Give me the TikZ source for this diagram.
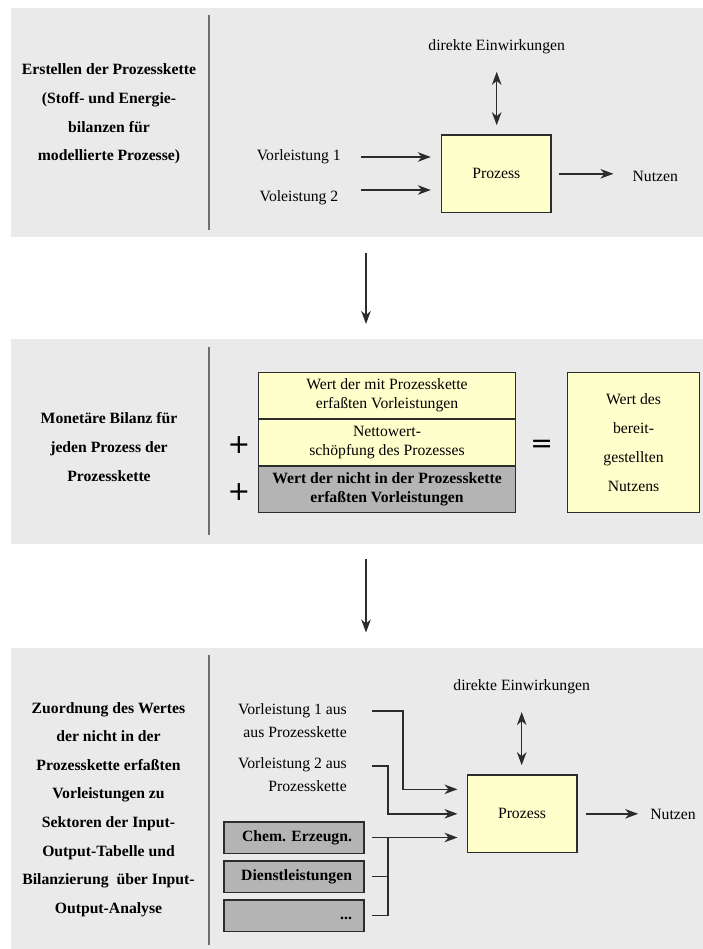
\documentclass[tikz,border=0pt]{standalone}
\usepackage{fontspec}
\setmainfont{Liberation Serif}
\newfontfamily\opfont{DejaVu Sans}
\usetikzlibrary{arrows.meta,positioning,calc}
\definecolor{panelgrey}{HTML}{EAEAEA}
\definecolor{boxyellow}{HTML}{FFFFCC}
\definecolor{boxgrey}{HTML}{B4B4B4}
\definecolor{linegrey}{HTML}{2C2C2C}
\definecolor{rulegrey}{HTML}{6E6E6E}
\tikzset{
  panel/.style      = {fill=panelgrey, anchor=north west, minimum width=692.5pt,
                       inner sep=0pt, outer sep=0pt},
  divider/.style    = {draw=rulegrey, line width=2pt},
  txt/.style        = {font=\fontsize{15.7}{19}\selectfont, inner sep=0pt},
  ltxt/.style       = {font=\fontsize{15.7}{28.6}\selectfont\bfseries, align=center, inner sep=0pt},
  proc/.style       = {draw=linegrey, line width=1.5pt, fill=boxyellow, minimum width=109.5pt,
                       minimum height=77.7pt, inner sep=0pt, font=\fontsize{15.7}{19}\selectfont},
  stk/.style        = {draw=linegrey, line width=1.5pt, fill=boxyellow, minimum width=257.4pt,
                       minimum height=46.8pt, inner sep=0pt, outer sep=0pt, align=center,
                       font=\fontsize{15.7}{19}\selectfont},
  stkdark/.style    = {fill=boxgrey, font=\fontsize{15.7}{19}\selectfont\bfseries},
  valbox/.style     = {stk, minimum width=131.6pt, minimum height=140.4pt,
                       font=\fontsize{15.7}{29}\selectfont},
  sect/.style       = {draw=linegrey, line width=1.5pt, fill=boxgrey, minimum height=31.5pt,
                       text width=116pt, inner xsep=12pt, inner ysep=0pt, outer sep=0pt,
                       align=right, text height=11pt, text depth=3.5pt,
                       font=\fontsize{15.7}{19}\selectfont\bfseries},
  opsym/.style      = {font=\opfont\fontsize{27}{27}\selectfont, inner sep=0pt},
  sig/.style        = {-{Stealth[length=13pt, width=9.5pt, inset=4pt]}, line width=1.5pt, draw=linegrey},
  dsig/.style       = {{Stealth[length=13pt, width=9.5pt, inset=4pt]}-{Stealth[length=13pt, width=9.5pt, inset=4pt]},
                       line width=1.5pt, draw=linegrey},
  wire/.style       = {line width=1.5pt, draw=linegrey},
}

\begin{document}
\begin{tikzpicture}[x=1pt, y=-1pt]
  \useasboundingbox (0,0) rectangle (703,949);
  \node[panel, minimum height=229.5pt] (pnlA) at (10.5,8) {};
  \node[panel, minimum height=204.5pt] (pnlB) at (10.5,339) {};
  \node[panel, minimum height=301.5pt] (pnlC) at (10.5,647.5) {};
  \draw[divider] (209,15) -- (209,230);
  \draw[divider] (208.5,347) -- (208.5,535);
  \draw[divider] (209,655) -- (209,945);
  \coordinate (arrx) at (366,0);
  \draw[sig, shorten <=15.5pt, shorten >=15pt] (pnlA.south -| arrx) -- (pnlB.north -| arrx);
  \draw[sig, shorten <=15.5pt, shorten >=15pt] (pnlB.south -| arrx) -- (pnlC.north -| arrx);

  \node[ltxt] (titA) at (109,114) {Erstellen der Prozesskette\\(Stoff- und Energie-\\bilanzen für\\modellierte Prozesse)};
  \node[proc] (przA) at (496.3,173.8) {Prozess};
  \node[txt] (einwA) at (496.7,47) {direkte Einwirkungen};
  \node[txt] (vlA1) at (298.8,157) {Vorleistung 1};
  \node[txt] (vlA2) at (299,198) {Voleistung 2};
  \node[txt] (nutzA) at (655.3,176) {Nutzen};
  \draw[dsig, shorten <=17.5pt, shorten >=9pt] (einwA.south) -- (einwA.south |- przA.north);
  \draw[sig, shorten <=20pt, shorten >=10pt] (vlA1.east) -- (vlA1.east -| przA.west);
  \draw[sig, shorten <=22pt, shorten >=10pt] ($(vlA2.east)+(0,-8)$) -- ($(vlA2.east -| przA.west)+(0,-8)$);
  \draw[sig, shorten <=7pt, shorten >=19pt] (przA.east) -- (przA.east -| nutzA.west);

  \node[ltxt] (titB) at (109,447) {Monetäre Bilanz für\\jeden Prozess der\\Prozesskette};
  \node[stk] (stkA) at (387,395.7) {Wert der mit Prozesskette\\erfaßten Vorleistungen};
  \node[stk, below=0pt of stkA] (stkB) {Nettowert-\\schöpfung des Prozesses};
  \node[stk, stkdark, below=0pt of stkB] (stkC) {Wert der nicht in der Prozesskette\\erfaßten Vorleistungen};
  \node[opsym] (plusA) at (239,445) {+};
  \node[opsym] (plusB) at (239,492.3) {+};
  \node[opsym] (eqB) at (541.7,446) {=};
  \node[valbox] (wertB) at (633.5,442.5) {Wert des\\bereit-\\gestellten\\Nutzens};

  \node[ltxt] (titC) at (108.5,809.5) {Zuordnung des Wertes\\der nicht in der\\Prozesskette erfaßten\\Vorleistungen zu\\Sektoren der Input-\\Output-Tabelle und\\Bilanzierung\ \ über Input-\\Output-Analyse};
  \node[proc] (przC) at (522,813.8) {Prozess};
  \node[txt] (einwC) at (521.7,686.7) {direkte Einwirkungen};
  \node[txt, align=right, anchor=east, font=\fontsize{15.7}{23}\selectfont] (vlC1) at (347,721) {Vorleistung 1 aus\\aus Prozesskette};
  \node[txt, align=right, anchor=east, font=\fontsize{15.7}{23}\selectfont] (vlC2) at (347,775) {Vorleistung 2 aus\\Prozesskette};
  \node[sect] (secA) at (294,837.5) {Chem.\ Erzeugn.};
  \node[sect, below=7.5pt of secA] (secB) {Dienstleistungen};
  \node[sect, below=7.5pt of secB] (secC) {...};
  \node[txt] (nutzC) at (673,814) {Nutzen};
  \coordinate (jnC) at ($(secA.east)+(24,0)$);
  \draw[dsig, shorten <=18pt, shorten >=9pt] (einwC.south) -- (einwC.south |- przC.north);
  \draw[sig, shorten >=9pt] ($(vlC1.east)+(25,-10)$) -- ++(31,0) |- ($(przC.west)+(0,-24.5)$);
  \draw[sig, shorten >=9pt] ($(vlC2.east)+(25,-9)$) -- ++(16,0) |- (przC.west);
  \draw[sig, shorten <=8pt, shorten >=9pt] (secA.east) -- (secA.east -| przC.west);
  \draw[wire] ($(secB.east)+(8,0)$) -| (jnC);
  \draw[wire] ($(secC.east)+(8,0)$) -| (jnC);
  \draw[sig, shorten <=8pt, shorten >=12pt] (przC.east) -- (przC.east -| nutzC.west);
\end{tikzpicture}
\end{document}
